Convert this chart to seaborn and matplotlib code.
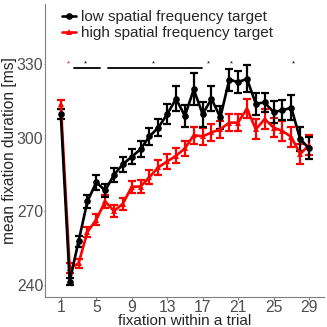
import numpy as np
import pandas as pd
import matplotlib
matplotlib.use("Agg")
import matplotlib.pyplot as plt
import seaborn as sns

fixation = list(range(1, 30))

low_sf = [309.5, 241.4, 257.8, 274.0, 281.8, 278.5, 284.8, 289.2, 292.2, 295.3,
          300.5, 304.1, 309.5, 315.8, 308.8, 319.6, 309.5, 315.8, 308.2, 323.6,
          322.6, 323.9, 313.8, 314.3, 310.4, 311.1, 312.2, 299.4, 295.6]
low_err = [2.0, 1.5, 2.2, 2.5, 3.0, 2.8, 3.0, 3.0, 3.0, 3.2,
           3.5, 3.5, 4.0, 5.0, 4.5, 6.5, 5.0, 5.0, 4.5, 4.5,
           4.5, 5.5, 4.5, 4.0, 4.5, 4.0, 5.0, 5.0, 4.5]

high_sf = [313.5, 246.8, 248.8, 261.6, 266.6, 274.0, 270.1, 273.1, 280.0, 280.1,
           283.9, 287.9, 290.3, 292.6, 295.6, 301.0, 300.5, 302.1, 303.4, 306.1,
           306.1, 311.8, 303.4, 307.5, 304.1, 302.7, 300.3, 293.3, 296.9]
high_err = [2.0, 2.0, 2.0, 2.2, 2.3, 2.5, 2.5, 2.5, 2.5, 2.5,
            2.8, 3.0, 3.0, 3.0, 3.2, 3.5, 3.5, 3.5, 3.5, 3.5,
            3.5, 4.0, 4.0, 4.0, 4.0, 4.0, 4.0, 4.0, 4.0]

# significance marks along the top
sig_spans = [(2.5, 5.4), (6.3, 16.9)]
sig_stars = [3.8, 11.5, 17.6, 20.3, 27.2]
sig_stars_red = [1.8]

labels = ["low spatial frequency target", "high spatial frequency target"]

df = pd.DataFrame({
    "fixation": fixation * 2,
    "duration": low_sf + high_sf,
    "err": low_err + high_err,
    "target": [labels[0]] * len(fixation) + [labels[1]] * len(fixation),
})

sns.set_theme(style="ticks")
plt.rcParams["font.family"] = ["Liberation Sans", "DejaVu Sans"]

fig = plt.figure(figsize=(3.27, 3.27), dpi=100)
ax = fig.add_axes([0.138, 0.093, 0.853, 0.895])

palette = {labels[0]: "black", labels[1]: "red"}
markers = {labels[0]: "o", labels[1]: "^"}

for lab in labels[::-1]:
    sub = df[df["target"] == lab]
    ax.errorbar(sub["fixation"], sub["duration"], yerr=sub["err"],
                fmt="none", ecolor=palette[lab], elinewidth=1.6,
                capsize=3.2, capthick=1.6, zorder=2)

sns.lineplot(data=df, x="fixation", y="duration", hue="target", style="target",
             palette=palette, markers=markers, dashes=False, hue_order=labels[::-1],
             style_order=labels[::-1], linewidth=1.9, markersize=4.8,
             markeredgewidth=0, ax=ax, zorder=3)

for x0, x1 in sig_spans:
    ax.plot([x0, x1], [328.4, 328.4], color="black", lw=1.3)
for xs in sig_stars:
    ax.text(xs, 330.2, "*", ha="center", va="center", fontsize=5.5, color="black")
for xs in sig_stars_red:
    ax.text(xs, 330.2, "*", ha="center", va="center", fontsize=5.5, color="red")

ax.set_xlim(-0.77, 30.7)
ax.set_ylim(235.3, 354.4)
ax.set_xticks([1, 5, 9, 13, 17, 21, 25, 29])
ax.set_yticks([240, 270, 300, 330])
ax.tick_params(axis="both", colors="#7f7f7f", labelcolor="#4d4d4d",
               labelsize=11.3, width=0.8)
ax.tick_params(axis="x", length=2, pad=0.3)
ax.tick_params(axis="y", length=1, pad=0.3)
for s in ["top", "right"]:
    ax.spines[s].set_visible(False)
for s in ["left", "bottom"]:
    ax.spines[s].set_color("#7f7f7f")
    ax.spines[s].set_linewidth(0.8)

ax.set_xlabel("fixation within a trial", fontsize=11, labelpad=-0.5)
ax.set_ylabel("mean fixation duration [ms]", fontsize=11.2, labelpad=0)

handles, hl = ax.get_legend_handles_labels()
order = [hl.index(l) for l in labels]
ax.legend([handles[i] for i in order], labels, loc="upper left",
          bbox_to_anchor=(0.04, 1.0), frameon=False, fontsize=11,
          handlelength=0.9, handletextpad=0.3, labelspacing=0.15,
          borderaxespad=0)

fig.savefig("out.png", dpi=100)
